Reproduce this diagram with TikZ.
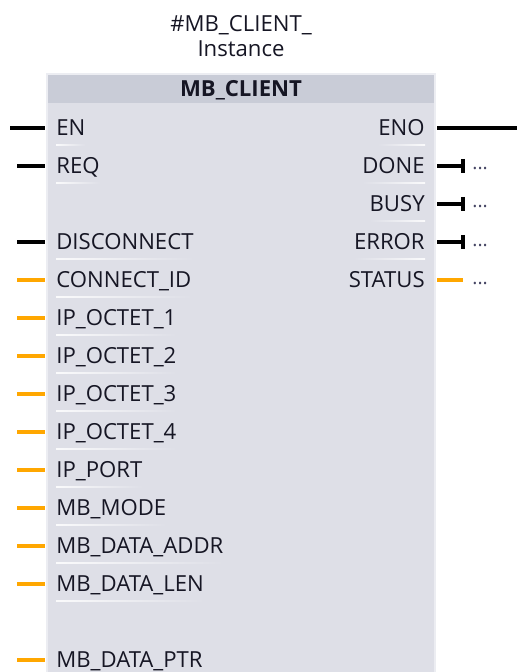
\documentclass[tikz,border=0pt]{standalone}
\usepackage{fontspec}
\setmainfont{Open Sans}
\usetikzlibrary{arrows.meta}

\definecolor{fbhead}{RGB}{201,204,215}
\definecolor{fbbody}{RGB}{222,223,231}
\definecolor{fbedge}{RGB}{236,237,242}
\definecolor{pintext}{RGB}{22,22,36}
\definecolor{wireorange}{RGB}{255,167,0}
\definecolor{dotgray}{RGB}{70,70,100}

\tikzset{
  pinlabel/.style={inner sep=0pt, text height=8.9pt, text depth=0pt,
    font=\fontsize{12.6}{14}\selectfont, text=pintext},
  inpin/.style={pinlabel, anchor=west},
  outpin/.style={pinlabel, anchor=east},
  boolwire/.style={line width=2.1pt, black},
  enwire/.style={line width=2.3pt, black},
  datawire/.style={line width=2.1pt, wireorange},
  intoblock/.style={shorten >=0.22cm},
  outofblock/.style={shorten <=0.24cm},
  notconn/.style={-{Bar[width=8pt]}},
  openend/.style={inner sep=0pt, anchor=base west, text=dotgray,
    font=\fontsize{11}{12}\selectfont},
}

\begin{document}
\begin{tikzpicture}[x=0.02cm,y=-0.02cm]
\useasboundingbox (0,0) rectangle (517,672);

% instance name
\node[align=center, font=\fontsize{12.6}{14.4}\selectfont, text=pintext]
  (inst) at (241,36) {\#MB\_CLIENT\_\\Instance};

% block body and header
\fill[fbbody] (47,74) rectangle (435,672);
\fill[fbhead] (47,74) rectangle (435,103);
\draw[fbedge, line width=0.6pt] (47,672) -- (47,74) -- (435,74) -- (435,672);
\node[font=\fontsize{12.6}{14}\selectfont\bfseries, text=pintext]
  (fbname) at (241,90) {MB\_CLIENT};

% inputs
\node[inpin] (en) at (56,128) {EN};
\coordinate (en-pin) at (10,128);
\draw[enwire,intoblock] (en-pin) -- (en);

\node[inpin] (req) at (56,166) {REQ};
\coordinate (req-pin) at (17,166);
\draw[boolwire,intoblock] (req-pin) -- (req);

\node[inpin] (disc) at (56,242) {DISCONNECT};
\coordinate (disc-pin) at (17,242);
\draw[boolwire,intoblock] (disc-pin) -- (disc);

\node[inpin] (connid) at (56,280) {CONNECT\_ID};
\coordinate (connid-pin) at (17,280);
\draw[datawire,intoblock] (connid-pin) -- (connid);

\node[inpin] (oct1) at (56,318) {IP\_OCTET\_1};
\coordinate (oct1-pin) at (17,318);
\draw[datawire,intoblock] (oct1-pin) -- (oct1);

\node[inpin] (oct2) at (56,356) {IP\_OCTET\_2};
\coordinate (oct2-pin) at (17,356);
\draw[datawire,intoblock] (oct2-pin) -- (oct2);

\node[inpin] (oct3) at (56,394) {IP\_OCTET\_3};
\coordinate (oct3-pin) at (17,394);
\draw[datawire,intoblock] (oct3-pin) -- (oct3);

\node[inpin] (oct4) at (56,432) {IP\_OCTET\_4};
\coordinate (oct4-pin) at (17,432);
\draw[datawire,intoblock] (oct4-pin) -- (oct4);

\node[inpin] (port) at (56,470) {IP\_PORT};
\coordinate (port-pin) at (17,470);
\draw[datawire,intoblock] (port-pin) -- (port);

\node[inpin] (mode) at (56,508) {MB\_MODE};
\coordinate (mode-pin) at (17,508);
\draw[datawire,intoblock] (mode-pin) -- (mode);

\node[inpin] (addr) at (56,546) {MB\_DATA\_ADDR};
\coordinate (addr-pin) at (17,546);
\draw[datawire,intoblock] (addr-pin) -- (addr);

\node[inpin] (len) at (56,584) {MB\_DATA\_LEN};
\coordinate (len-pin) at (17,584);
\draw[datawire,intoblock] (len-pin) -- (len);

\node[inpin] (ptr) at (56,660) {MB\_DATA\_PTR};
\coordinate (ptr-pin) at (17,660);
\draw[datawire,intoblock] (ptr-pin) -- (ptr);

% outputs
\node[outpin] (eno) at (425,128) {ENO};
\coordinate (eno-pin) at (517,128);
\draw[enwire,outofblock] (eno) -- (eno-pin);

\node[outpin] (done) at (425,166) {DONE};
\coordinate (done-pin) at (465,166);
\draw[boolwire,outofblock,notconn] (done) -- (done-pin);
\node[openend] (done-val) at (472,170) {...};

\node[outpin] (busy) at (425,204) {BUSY};
\coordinate (busy-pin) at (465,204);
\draw[boolwire,outofblock,notconn] (busy) -- (busy-pin);
\node[openend] (busy-val) at (472,208) {...};

\node[outpin] (error) at (425,242) {ERROR};
\coordinate (error-pin) at (465,242);
\draw[boolwire,outofblock,notconn] (error) -- (error-pin);
\node[openend] (error-val) at (472,246) {...};

\node[outpin] (status) at (425,280) {STATUS};
\coordinate (status-pin) at (463,280);
\draw[datawire,outofblock] (status) -- (status-pin);
\node[openend] (status-val) at (472,284) {...};

% faint underlines below the pin names
\foreach \p in {en,req,disc,connid,oct1,oct2,oct3,oct4,port,mode,addr,len}
  \shade[left color=white!85!fbbody, right color=fbbody]
    ([yshift=-0.16cm]\p.south west) rectangle ([yshift=-0.19cm]\p.south east);
\foreach \p in {eno,done,busy,error}
  \shade[left color=fbbody, right color=white!85!fbbody]
    ([yshift=-0.16cm]\p.south west) rectangle ([yshift=-0.19cm]\p.south east);
\end{tikzpicture}
\end{document}
